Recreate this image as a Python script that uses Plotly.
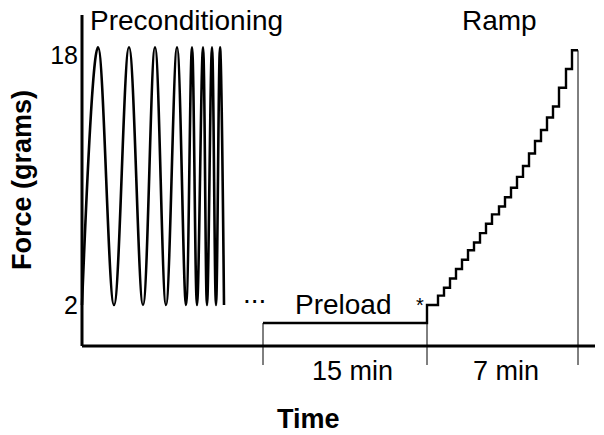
import plotly.graph_objects as go

# ---------------- data (time in arbitrary units, force in grams) ----------------
# preconditioning cycles: alternating troughs / peaks (chirp with rising frequency)
precond_t = [0, 16, 32, 47, 61, 73, 84, 95, 104, 110, 115, 121, 125, 130, 134, 138, 142]
precond_f = [2, 18.5, 2, 18.5, 2, 18.5, 2, 18.5, 2, 18.5, 2, 18.5, 2, 18.5, 2, 18.5, 2]

# preload hold followed by the stepwise ramp (step-after, 'hv')
ramp_t = [181, 345, 356, 362, 368, 374, 380, 386, 392, 398, 404, 410, 417, 423,
          429, 435, 441, 447, 453, 459, 465, 471, 477, 484, 490, 496]
ramp_f = [0.85, 2.0, 2.6, 3.1, 3.7, 4.3, 4.9, 5.5, 6.0, 6.6, 7.2, 7.8, 8.3, 8.9,
          9.5, 10.2, 10.9, 11.7, 12.5, 13.2, 14.0, 14.7, 15.9, 17.1, 18.3, 18.3]

# phase boundaries (thin markers)
marker_t = [181, 345, 496]
marker_top = [0.85, 0.85, 18.3]
marker_bottom = -1.84

axis_floor = -0.62
axis_top = 20.56
axis_end = 513

ytick_vals = [2, 18]
ytick_text = ["2", "18"]

phase_labels = ["Preconditioning", "Ramp"]
duration_labels = ["15 min", "7 min"]

# ---------------- figure ----------------
W, H = 604, 435
OFF = 8  # page body margin of the browser
L, R, T, B = 79, 6, 8, 67
PW, PH = W - L - R, H - T - B


def P(xp, yp):
    return (xp - L) / PW, 1 - (yp - T) / PH


FONT = "Liberation Sans, Arial, sans-serif"

fig = go.Figure()

fig.add_trace(go.Scatter(
    x=precond_t, y=precond_f, mode="lines",
    line=dict(color="black", width=2.6, shape="spline", smoothing=1.1),
    hoverinfo="skip", showlegend=False))

fig.add_trace(go.Scatter(
    x=ramp_t, y=ramp_f, mode="lines",
    line=dict(color="black", width=2.4, shape="hv"),
    hoverinfo="skip", showlegend=False))

shapes = []
for t, top in zip(marker_t, marker_top):
    shapes.append(dict(type="line", xref="x", yref="y", x0=t, x1=t,
                       y0=marker_bottom, y1=top,
                       line=dict(color="black", width=1)))
# axes
shapes.append(dict(type="line", xref="x", yref="y", x0=0, x1=axis_end,
                   y0=axis_floor, y1=axis_floor, line=dict(color="black", width=3)))
shapes.append(dict(type="line", xref="x", yref="y", x0=0, x1=0,
                   y0=axis_floor, y1=axis_top, line=dict(color="black", width=3)))

ann = []


def text(s, xp, yp, size, bold=False, angle=0, xanchor="center"):
    x, y = P(xp, yp)
    ann.append(dict(text=f"<b>{s}</b>" if bold else s, x=x, y=y,
                    xref="paper", yref="paper", showarrow=False,
                    xanchor=xanchor, yanchor="middle", textangle=angle,
                    font=dict(family=FONT, size=size, color="black")))


text(phase_labels[0], 186, 21, 28)
text(phase_labels[1], 499, 21, 28)
text("Preload", 343, 304, 28)
text(duration_labels[0], 352, 371, 27)
text(duration_labels[1], 506, 371, 27)
text("Time", 308, 419, 27, bold=True)
text("Force (grams)", 22, 180, 27, bold=True, angle=-90)
text("...", 254, 293, 28)
text("*", 420, 305, 20)

fig.update_layout(
    width=W - OFF, height=H - OFF,
    margin=dict(l=L - OFF, r=R, t=T - OFF, b=B, autoexpand=False),
    paper_bgcolor="white", plot_bgcolor="white",
    shapes=shapes, annotations=ann,
    showlegend=False,
    xaxis=dict(range=[-3, 516], showgrid=False, zeroline=False, showline=False,
               showticklabels=False, ticks=""),
    yaxis=dict(range=[2 - 63 / 15.625, 2 + 297 / 15.625], showgrid=False,
               zeroline=False, showline=False, ticks="", automargin=False,
               tickvals=ytick_vals, ticktext=ytick_text,
               tickfont=dict(family=FONT, size=25, color="black")),
)

fig.write_html("out.html")
